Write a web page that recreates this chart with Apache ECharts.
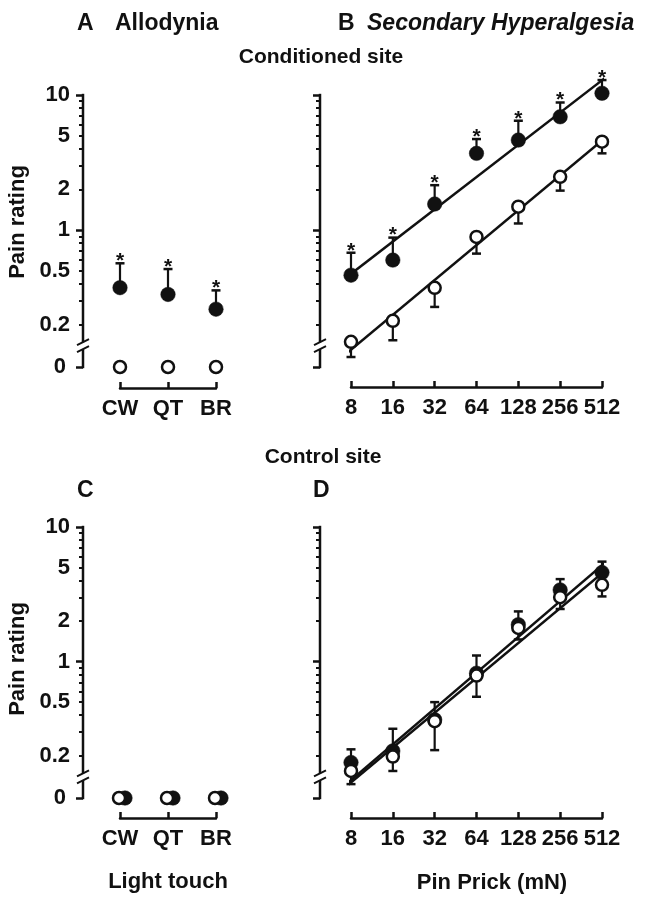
<!DOCTYPE html>
<html><head><meta charset="utf-8">
<script src="https://cdn.jsdelivr.net/npm/echarts@6/dist/echarts.min.js"></script>
<style>html,body{margin:0;padding:0;background:#fff}#c{width:646px;height:899px}</style>
</head><body><div id="c"></div>
<script>
// ---------------- data ----------------
const allodyniaCategories = ['CW', 'QT', 'BR'];
const pinPrickForces = [8, 16, 32, 64, 128, 256, 512];
const yMinorTicks = [0.2, 0.3, 0.4, 0.5, 0.6, 0.7, 0.8, 0.9, 2, 3, 4, 5, 6, 7, 8, 9];
const yMajorTicks = [1, 10];
const yTickLabels = [0.2, 0.5, 1, 2, 5, 10];
const zeroTick = [0];

// A: allodynia, conditioned site
const condAllodyniaFilled = [0.375, 0.334, 0.26];
const condAllodyniaFilledErr = [0.568, 0.515, 0.358];
const condAllodyniaOpen = [0, 0, 0];
const condAllodyniaStars = [1, 1, 1];

// B: pin prick, conditioned site
const condPinFilled = [0.464, 0.60, 1.56, 3.7, 4.64, 6.9, 10.3];
const condPinFilledErr = [0.68, 0.88, 2.15, 4.72, 6.45, 8.8, 12.9];
const condPinOpen = [0.149, 0.213, 0.374, 0.89, 1.49, 2.48, 4.51];
const condPinOpenErr = [0.115, 0.153, 0.27, 0.67, 1.12, 1.96, 3.7];
const condPinStars = [1, 1, 1, 1, 1, 1, 1];
const condFitFilled = [[5.73, 0.364], [713, 16.7]];
const condFitOpen = [[5.73, 0.098], [713, 6.1]];

// C: allodynia, control site
const ctrlAllodyniaFilled = [0, 0, 0];
const ctrlAllodyniaOpen = [0, 0, 0];

// D: pin prick, control site
const ctrlPinFilled = [0.178, 0.217, 0.37, 0.82, 1.88, 3.41, 4.59];
const ctrlPinFilledErr = [0.223, 0.317, 0.50, 1.11, 2.36, 4.1, 5.53];
const ctrlPinOpen = [0.154, 0.197, 0.361, 0.787, 1.78, 3.01, 3.72];
const ctrlPinOpenErr = [0.123, 0.154, 0.22, 0.548, 1.46, 2.46, 3.05];
const ctrlPinStars = [0, 0, 0, 0, 0, 0, 0];
const ctrlFitFilled = [[5.73, 0.098], [713, 6.95]];
const ctrlFitOpen = [[5.73, 0.095], [713, 6.03]];

// ---------------- style / layout ----------------
const INK = '#111';
const FONT = '"Liberation Sans", Arial, Helvetica, sans-serif';
const Y_MIN = 0.097, Y_MAX = 10, Y_BREAK = 0.148;
const panels = [
  { grid: { left: 120, top: 95, width: 96, height: 272 }, yOffset: 37, xOffset: 21, cat: true, labels: true },
  { grid: { left: 351, top: 95, width: 251, height: 272 }, yOffset: 31, xOffset: 20, cat: false, labels: false },
  { grid: { left: 120, top: 527, width: 96, height: 271 }, yOffset: 37, xOffset: 20, cat: true, labels: true },
  { grid: { left: 351, top: 527, width: 251, height: 271 }, yOffset: 31, xOffset: 20, cat: false, labels: false }
];

const labelStyle = { fontSize: 22, fontWeight: 'bold', color: INK, fontFamily: FONT };
const fmt = v => String(parseFloat(Number(v).toPrecision(3)));

const xAxes = [], yAxes = [];
panels.forEach((p, i) => {
  if (p.cat) {
    xAxes.push({
      type: 'category', gridIndex: i, data: allodyniaCategories, boundaryGap: false, offset: p.xOffset,
      axisLine: { onZero: false, lineStyle: { color: INK, width: 2.5 } },
      axisTick: { inside: true, length: 6, lineStyle: { color: INK, width: 2.5 } },
      axisLabel: Object.assign({ margin: 10, interval: 0 }, labelStyle),
      splitLine: { show: false }
    });
  } else {
    xAxes.push({
      type: 'log', logBase: 2, gridIndex: i, min: 8, max: 512, offset: p.xOffset,
      axisLine: { onZero: false, lineStyle: { color: INK, width: 2.5 } },
      axisTick: { inside: true, length: 6, customValues: pinPrickForces, lineStyle: { color: INK, width: 2.5 } },
      axisLabel: Object.assign({ margin: 10, customValues: pinPrickForces, formatter: fmt }, labelStyle),
      splitLine: { show: false }, minorTick: { show: false }
    });
  }
  // log axis: minor ticks + labels
  yAxes.push({
    type: 'log', logBase: 10, gridIndex: i, position: 'left', min: Y_MIN, max: Y_MAX, offset: p.yOffset,
    axisLine: { show: false, onZero: false }, splitLine: { show: false },
    axisTick: { show: true, length: 4, customValues: yMinorTicks, lineStyle: { color: INK, width: 2 } },
    axisLabel: p.labels ? Object.assign({ margin: 13, customValues: yTickLabels, formatter: fmt }, labelStyle) : { show: false }
  });
  // log axis: decade ticks
  yAxes.push({
    type: 'log', logBase: 10, gridIndex: i, position: 'left', min: Y_MIN, max: Y_MAX, offset: p.yOffset,
    axisLine: { show: false, onZero: false }, splitLine: { show: false },
    axisTick: { show: true, length: 7, customValues: yMajorTicks, lineStyle: { color: INK, width: 2.5 } },
    axisLabel: { show: false }
  });
  // zero axis
  yAxes.push({
    type: 'value', gridIndex: i, position: 'left', min: 0, max: 1, offset: p.yOffset,
    axisLine: { show: false, onZero: false }, splitLine: { show: false },
    axisTick: { show: true, length: 7, customValues: zeroTick, lineStyle: { color: INK, width: 2.5 } },
    axisLabel: p.labels ? Object.assign({ margin: 17, customValues: zeroTick, formatter: fmt }, labelStyle) : { show: false }
  });
});

function errorBarItem(params, api) {
  const x = api.value(0);
  const p0 = api.coord([x, api.value(1)]);
  const p1 = api.coord([x, api.value(2)]);
  const children = [
    { type: 'line', shape: { x1: p0[0], y1: p0[1], x2: p1[0], y2: p1[1] }, style: { stroke: INK, lineWidth: 2.2 } },
    { type: 'line', shape: { x1: p1[0] - 4.5, y1: p1[1], x2: p1[0] + 4.5, y2: p1[1] }, style: { stroke: INK, lineWidth: 2.5 } }
  ];
  if (api.value(3)) {
    children.push({ type: 'text', x: p1[0], y: p1[1] - 2,
      style: { text: '*', fill: INK, font: 'bold 21px ' + FONT, align: 'center', verticalAlign: 'middle' } });
  }
  return { type: 'group', children };
}

function errSeries(xi, yi, xs, vals, errs, stars) {
  return {
    type: 'custom', xAxisIndex: xi, yAxisIndex: yi, z: 2, clip: false,
    renderItem: errorBarItem,
    data: vals.map((v, k) => [xs[k], v, errs[k], stars ? stars[k] : 0])
  };
}
function dotSeries(xi, yi, xs, vals, filled, offset, z) {
  return {
    type: 'scatter', xAxisIndex: xi, yAxisIndex: yi, z: z || 3, clip: false,
    symbol: 'circle', symbolSize: filled ? 14.5 : 12, symbolOffset: offset || [0, 0],
    itemStyle: filled ? { color: INK, borderColor: INK, borderWidth: 0.5, opacity: 1 } : { color: '#fff', borderColor: INK, borderWidth: 2.5, opacity: 1 },
    emphasis: { disabled: true },
    data: vals.map((v, k) => [xs[k], v])
  };
}
function fitSeries(xi, yi, pts) {
  return {
    type: 'line', xAxisIndex: xi, yAxisIndex: yi, z: 1, clip: false, symbol: 'none', silent: true,
    lineStyle: { color: INK, width: 2.5, opacity: 1 }, data: pts
  };
}

const catIdx = allodyniaCategories.map((c, k) => k);

const series = [
  // A
  errSeries(0, 0, catIdx, condAllodyniaFilled, condAllodyniaFilledErr, condAllodyniaStars),
  dotSeries(0, 0, catIdx, condAllodyniaFilled, true),
  dotSeries(0, 2, catIdx, condAllodyniaOpen, false, [0, 0], 4),
  // B
  fitSeries(1, 3, condFitFilled),
  fitSeries(1, 3, condFitOpen),
  errSeries(1, 3, pinPrickForces, condPinFilled, condPinFilledErr, condPinStars),
  errSeries(1, 3, pinPrickForces, condPinOpen, condPinOpenErr, null),
  dotSeries(1, 3, pinPrickForces, condPinFilled, true),
  dotSeries(1, 3, pinPrickForces, condPinOpen, false, [0, 0], 4),
  // C
  dotSeries(2, 8, catIdx, ctrlAllodyniaFilled, true, [5, 0], 3),
  dotSeries(2, 8, catIdx, ctrlAllodyniaOpen, false, [-1, 0], 4),
  // D
  fitSeries(3, 9, ctrlFitFilled),
  fitSeries(3, 9, ctrlFitOpen),
  errSeries(3, 9, pinPrickForces, ctrlPinFilled, ctrlPinFilledErr, ctrlPinStars),
  errSeries(3, 9, pinPrickForces, ctrlPinOpen, ctrlPinOpenErr, null),
  dotSeries(3, 9, pinPrickForces, ctrlPinFilled, true),
  dotSeries(3, 9, pinPrickForces, ctrlPinOpen, false, [0, 0], 4)
];

const chart = echarts.init(document.getElementById('c'), null, { renderer: 'canvas' });
chart.setOption({
  animation: false,
  backgroundColor: '#fff',
  textStyle: { fontFamily: FONT },
  grid: panels.map(p => Object.assign({ containLabel: false }, p.grid)),
  xAxis: xAxes,
  yAxis: yAxes,
  series: series
});

// ---------------- texts and broken y-axis lines ----------------
function txt(text, x, y, size, opts) {
  return Object.assign({
    type: 'text', x: x, y: y, silent: true,
    style: Object.assign({ text: text, fill: INK, font: 'bold ' + size + 'px ' + FONT, align: 'left', verticalAlign: 'middle' }, (opts && opts.style) || {})
  }, (opts && opts.el) || {});
}
const graphics = [
  txt('A', 77, 24, 23),
  txt('Allodynia', 115, 24, 23),
  txt('B', 338, 24, 23),
  txt('Secondary Hyperalgesia', 367, 24, 23, { style: { font: 'italic bold 23px ' + FONT } }),
  txt('Conditioned site', 321, 57, 21, { style: { align: 'center' } }),
  txt('Control site', 323, 457, 21, { style: { align: 'center' } }),
  txt('C', 77, 491, 23),
  txt('D', 313, 491, 23),
  txt('Pain rating', 18, 222, 22, { style: { align: 'center' }, el: { rotation: Math.PI / 2 } }),
  txt('Pain rating', 18, 659, 22, { style: { align: 'center' }, el: { rotation: Math.PI / 2 } }),
  txt('Light touch', 168, 882, 22, { style: { align: 'center' } }),
  txt('Pin Prick (mN)', 492, 883, 22, { style: { align: 'center' } })
];
panels.forEach((p, i) => {
  const yi = 3 * i;
  const first = p.cat ? allodyniaCategories[0] : pinPrickForces[0];
  const ax = chart.convertToPixel({ xAxisIndex: i }, first) - p.yOffset;
  const yTop = chart.convertToPixel({ yAxisIndex: yi }, Y_MAX);
  const yB = chart.convertToPixel({ yAxisIndex: yi }, Y_BREAK);
  const yBot = chart.convertToPixel({ yAxisIndex: yi }, Y_MIN);
  const ls = { stroke: INK, lineWidth: 2.5 };
  graphics.push({ type: 'line', silent: true, shape: { x1: ax, y1: yTop - 1.2, x2: ax, y2: yB }, style: ls });
  graphics.push({ type: 'line', silent: true, shape: { x1: ax, y1: yB + 7, x2: ax, y2: yBot + 1.2 }, style: ls });
  graphics.push({ type: 'line', silent: true, shape: { x1: ax - 6, y1: yB + 3, x2: ax + 6, y2: yB - 3 }, style: { stroke: INK, lineWidth: 2 } });
  graphics.push({ type: 'line', silent: true, shape: { x1: ax - 6, y1: yB + 10, x2: ax + 6, y2: yB + 4 }, style: { stroke: INK, lineWidth: 2 } });
});
chart.setOption({ graphic: graphics });
</script>
</body></html>
